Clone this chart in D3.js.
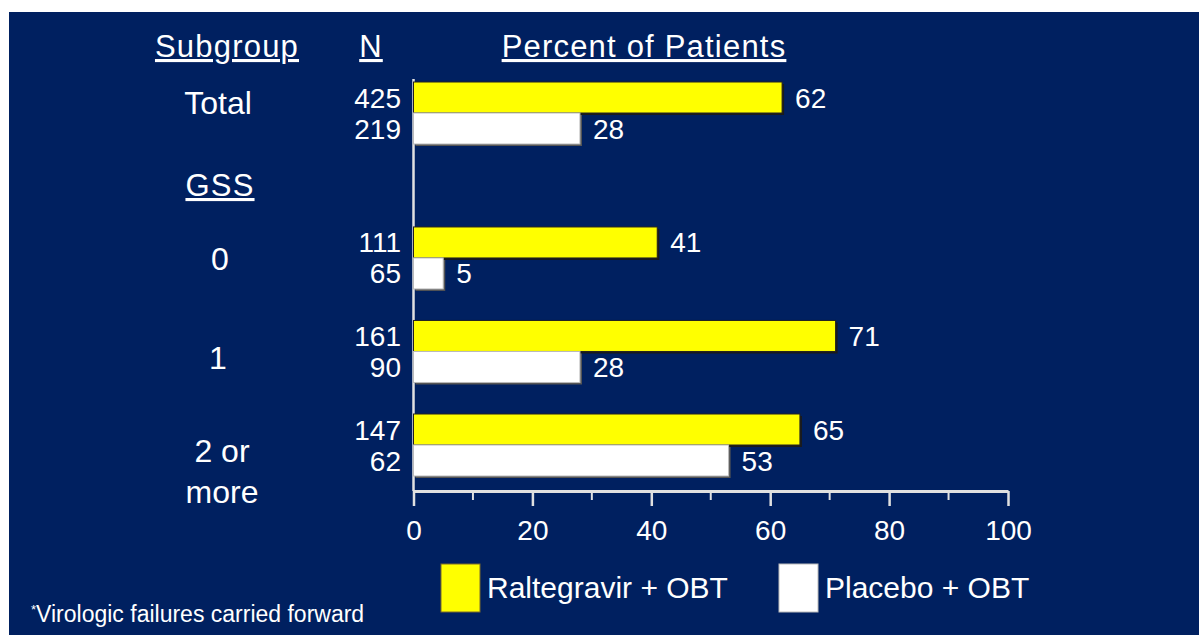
<!DOCTYPE html>
<html>
<head>
<meta charset="utf-8">
<script src="https://cdn.jsdelivr.net/npm/d3@7"></script>
<style>
  body { margin: 0; background: #fff; }
  svg { display: block; font-family: "Liberation Sans", Arial, sans-serif; }
</style>
</head>
<body>
<script>
// data
var subgroups = ["Total", "0", "1", "2 or more"];
var nRaltegravir = [425, 111, 161, 147];
var nPlacebo = [219, 65, 90, 62];
var pctRaltegravir = [62, 41, 71, 65];
var pctPlacebo = [28, 5, 28, 53];
var seriesNames = ["Raltegravir + OBT", "Placebo + OBT"];
var seriesColors = ["#ffff00", "#ffffff"];
var xTicks = [0, 20, 40, 60, 80, 100];
var xMinorTicks = [10, 30, 50, 70, 90];

var w = 1199, h = 635;
var barH = 31;
var axisY = 491;

var svg = d3.select("body").append("svg")
  .attr("width", w)
  .attr("height", h);

// slide background (thin white margin top/left like the capture)
svg.append("rect")
  .attr("x", 9).attr("y", 12)
  .attr("width", w - 9).attr("height", h - 12)
  .attr("fill", "#002060");

var xScale = d3.scaleLinear().domain([0, 100]).range([413.5, 1008]);

// group rows: after "Total" there is an extra half row for the GSS heading
var rowIndex = subgroups.map(function(d, i) { return i === 0 ? 0 : i + 0.55; });
var yScale = d3.scaleLinear().domain([0, 3.55]).range([82, 414]);

var rows = subgroups.map(function(d, i) {
  return {
    name: d,
    top: yScale(rowIndex[i]),
    vals: [pctRaltegravir[i], pctPlacebo[i]],
    ns: [nRaltegravir[i], nPlacebo[i]]
  };
});

// headers
function header(txt, x, y, size) {
  return svg.append("text")
    .attr("x", x).attr("y", y)
    .attr("text-anchor", "middle")
    .attr("fill", "#fff")
    .attr("font-size", size)
    .style("letter-spacing", "1.2px")
    .style("text-decoration", "underline")
    .text(txt);
}
header("Subgroup", 227, 57, 31);
header("N", 371, 57, 31);
header("Percent of Patients", 644, 57, 31);
header("GSS", 220, 196, 31);

// vertical axis line
svg.append("line")
  .attr("x1", xScale(0)).attr("x2", xScale(0))
  .attr("y1", 79).attr("y2", axisY)
  .attr("stroke", "#e0e0e0").attr("stroke-width", 2.5);

// x axis
var xAxis = svg.append("g")
  .attr("transform", "translate(0," + axisY + ")")
  .call(d3.axisBottom(xScale).tickValues(xTicks).tickSize(15).tickPadding(14).tickSizeOuter(0));
xAxis.select(".domain").attr("stroke", "#e0e0e0").attr("stroke-width", 3);
xAxis.selectAll(".tick line").attr("stroke", "#e0e0e0").attr("stroke-width", 2.5);
xAxis.selectAll(".tick text")
  .attr("fill", "#fff")
  .attr("font-size", 28)
  .attr("font-family", "Liberation Sans, Arial, sans-serif");

svg.append("g").selectAll("line")
  .data(xMinorTicks)
  .enter()
  .append("line")
  .attr("x1", function(d) { return xScale(d); })
  .attr("x2", function(d) { return xScale(d); })
  .attr("y1", axisY).attr("y2", axisY + 9)
  .attr("stroke", "#e0e0e0").attr("stroke-width", 2);

// bars
var groups = svg.selectAll(".grp")
  .data(rows)
  .enter()
  .append("g")
  .attr("class", "grp");

[0, 1].forEach(function(s) {
  // drop shadow
  groups.append("rect")
    .attr("x", xScale(0) + 2)
    .attr("y", function(d) { return d.top + s * barH + 2; })
    .attr("width", function(d) { return xScale(d.vals[s]) - xScale(0); })
    .attr("height", barH)
    .attr("fill", s === 0 ? "#1a1a1a" : "#555");

  groups.append("rect")
    .attr("x", xScale(0))
    .attr("y", function(d) { return d.top + s * barH; })
    .attr("width", function(d) { return xScale(d.vals[s]) - xScale(0); })
    .attr("height", barH)
    .attr("fill", seriesColors[s])
    .attr("stroke", s === 0 ? "#222" : "#bbb")
    .attr("stroke-width", 1);

  // value labels
  groups.append("text")
    .attr("x", function(d) { return xScale(d.vals[s]) + 13; })
    .attr("y", function(d) { return d.top + s * barH + barH / 2 + 10; })
    .attr("fill", "#fff")
    .attr("font-size", 28)
    .text(function(d) { return d.vals[s]; });

  // N labels
  groups.append("text")
    .attr("x", 401)
    .attr("y", function(d) { return d.top + s * barH + barH / 2 + 10; })
    .attr("text-anchor", "end")
    .attr("fill", "#fff")
    .attr("font-size", 28)
    .text(function(d) { return d.ns[s]; });
});

// subgroup names
groups.append("text")
  .attr("text-anchor", "middle")
  .attr("fill", "#fff")
  .attr("font-size", 32)
  .each(function(d, i) {
    var el = d3.select(this);
    var mid = d.top + barH;
    if (d.name === "2 or more") {
      el.append("tspan").attr("x", 222).attr("y", mid + 17).text("2 or");
      el.append("tspan").attr("x", 222).attr("y", mid + 58).text("more");
    } else if (i === 0) {
      el.attr("x", 218).attr("y", mid + 1).text(d.name);
    } else if (i === 2) {
      el.attr("x", 218).attr("y", mid + 18).text(d.name);
    } else {
      el.attr("x", 220).attr("y", mid + 12).text(d.name);
    }
  });

// legend
var legend = svg.append("g").attr("transform", "translate(441, 564)");
var legX = [0, 338];
seriesNames.forEach(function(name, i) {
  legend.append("rect")
    .attr("x", legX[i]).attr("y", 0)
    .attr("width", 39).attr("height", 48)
    .attr("fill", seriesColors[i])
    .attr("stroke", i === 0 ? "#7a6a2a" : "#bbb")
    .attr("stroke-width", 1);
  legend.append("text")
    .attr("x", legX[i] + 46).attr("y", 34)
    .attr("fill", "#fff")
    .attr("font-size", 30)
    .text(name);
});

// footnote
var foot = svg.append("text")
  .attr("x", 31).attr("y", 622)
  .attr("fill", "#fff")
  .attr("font-size", 23);
foot.append("tspan").attr("font-size", 13).attr("dy", -8).text("*");
foot.append("tspan").attr("dy", 8).text("Virologic failures carried forward");
</script>
</body>
</html>
